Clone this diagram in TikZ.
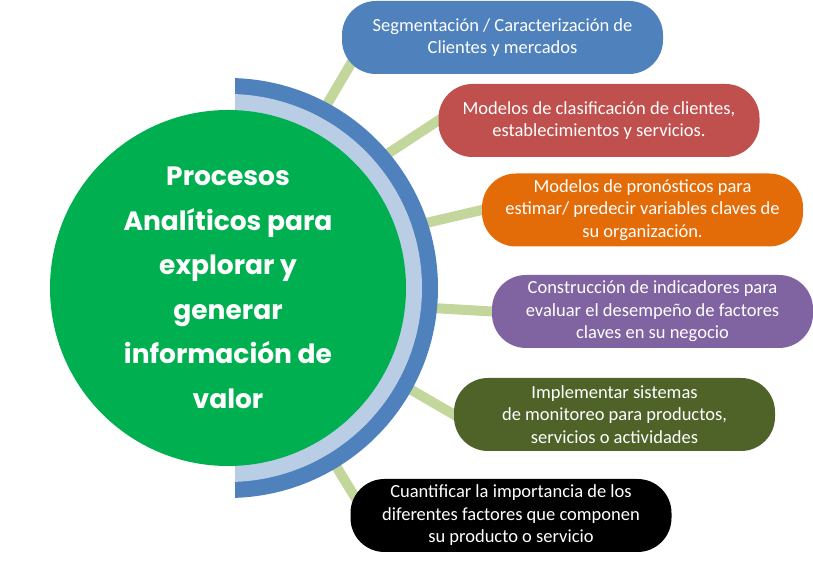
\documentclass[tikz,border=0pt]{standalone}
\usepackage{fontspec}
\setmainfont{Carlito}
\newfontfamily\heavyfont{Poppins}
\usetikzlibrary{calc,backgrounds}
\definecolor{ringdark}{HTML}{4F81BD}
\definecolor{ringlight}{HTML}{B9CDE5}
\definecolor{coregreen}{HTML}{00B050}
\definecolor{linkgreen}{HTML}{C3D69B}
\definecolor{segblue}{HTML}{4F81BD}
\definecolor{clasred}{HTML}{C0504D}
\definecolor{pronorange}{HTML}{E36C09}
\definecolor{indpurple}{HTML}{8064A2}
\definecolor{monolive}{HTML}{4F6228}
\begin{document}
\begin{tikzpicture}[x=1pt, y=1pt]
        \tikzstyle{topic}=[rounded corners=34pt, minimum width=321pt, minimum height=73pt,
            inner sep=0pt, align=center, text=white, font=\fontsize{18.5}{22.5}\selectfont]
        \tikzstyle{link}=[linkgreen, line width=10pt, shorten >=-10pt]
        \useasboundingbox (0,0) rectangle (813,561);
        \coordinate (c) at (228,273);
        % half ring behind the circle
        \begin{scope}
            \clip (235,0) rectangle (813,561);
            \fill[ringdark] (c) circle (210);
            \fill[ringlight] (c) circle (194);
        \end{scope}
        \node[circle, fill=coregreen, minimum size=356pt, inner sep=0pt, align=center, text=white,
            font=\heavyfont\bfseries\fontsize{26.5}{44.5}\selectfont] (core) at (c)
            {Procesos\\Analíticos para\\explorar y\\generar\\información de\\valor};
        % topics
        \node[topic, fill=segblue] (seg) at (502.5,523.5) {Segmentación / Caracterización de\\Clientes y mercados};
        \node[topic, fill=clasred] (clas) at (599,440.5) {Modelos de clasificación de clientes,\\establecimientos y servicios.};
        \node[topic, fill=pronorange] (pron) at (642.5,351) {Modelos de pronósticos para\\estimar/ predecir variables claves de\\su organización.};
        \node[topic, fill=indpurple] (ind) at (652.5,249.5) {Construcción de indicadores para\\evaluar el desempeño de factores\\claves en su negocio};
        \node[topic, fill=monolive] (mon) at (614.5,146.5) {Implementar sistemas\\de monitoreo para productos,\\servicios o actividades};
        \node[topic, fill=black] (cuan) at (511,45.5) {Cuantificar la importancia de los\\diferentes factores que componen\\su producto o servicio};
        % connectors
        \begin{scope}[on background layer]
            \draw[link, shorten >=0pt] ($(c)+(61.8:196)$) -- ($(seg.west)+(18,-11)$);
            \draw[link] ($(c)+(40.5:196)$) -- (clas.west);
            \draw[link] ($(c)+(18.5:196)$) -- (pron.west);
            \draw[link] ($(c)+(-5.7:196)$) -- (ind.west);
            \draw[link] ($(c)+(-29:196)$) -- (mon.west);
            \draw[link, shorten >=0pt] ($(c)+(-58.8:196)$) -- ($(cuan.west)+(16,0)$);
        \end{scope}
    \end{tikzpicture}
\end{document}
